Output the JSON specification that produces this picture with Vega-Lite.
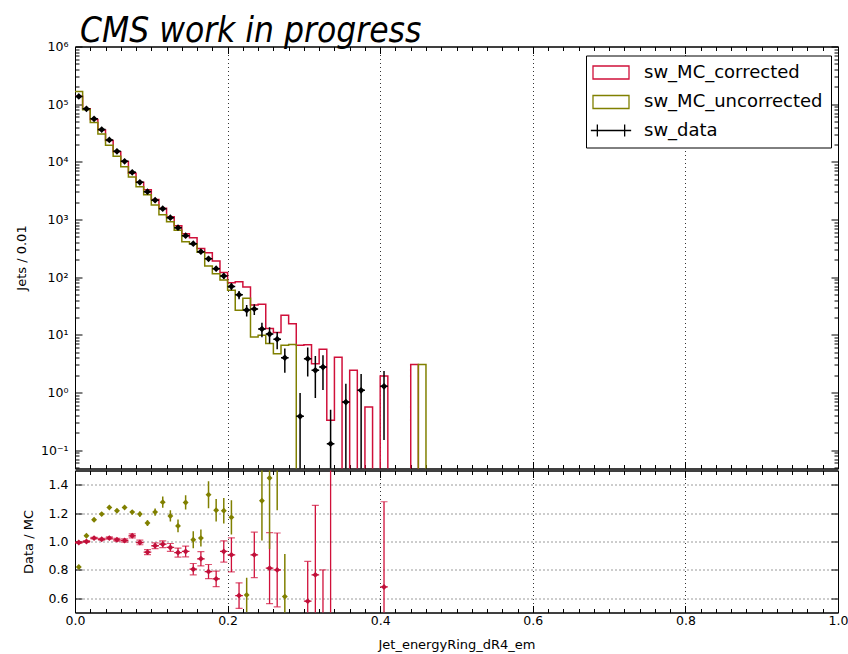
{
  "$schema": "https://vega.github.io/schema/vega-lite/v6.json",
  "padding": {"left": 14, "top": 12.5, "right": 5, "bottom": 0},
  "background": "white",
  "config": {
    "font": "DejaVu Sans",
    "view": {"stroke": "black", "strokeWidth": 1},
    "axis": {
      "labelFont": "DejaVu Sans", "labelFontSize": 12.5, "labelColor": "black", "labelFlush": false,
      "titleFont": "DejaVu Sans", "titleFontSize": 13, "titleFontWeight": "normal", "titleColor": "black",
      "domainColor": "black", "tickColor": "black", "gridColor": "black", "gridDash": [1, 3], "gridOpacity": 1, "gridWidth": 0.8
    }
  },
  "spacing": 0,
  "resolve": {"legend": {"color": "independent"}},
  "datasets": {
    "mc": [
      {"edge": 0.00, "series": "sw_MC_corrected", "n": 137000},
      {"edge": 0.01, "series": "sw_MC_corrected", "n": 83000},
      {"edge": 0.02, "series": "sw_MC_corrected", "n": 54300},
      {"edge": 0.03, "series": "sw_MC_corrected", "n": 35600},
      {"edge": 0.04, "series": "sw_MC_corrected", "n": 23400},
      {"edge": 0.05, "series": "sw_MC_corrected", "n": 15000},
      {"edge": 0.06, "series": "sw_MC_corrected", "n": 10100},
      {"edge": 0.07, "series": "sw_MC_corrected", "n": 6330},
      {"edge": 0.08, "series": "sw_MC_corrected", "n": 4440},
      {"edge": 0.09, "series": "sw_MC_corrected", "n": 3290},
      {"edge": 0.10, "series": "sw_MC_corrected", "n": 2230},
      {"edge": 0.11, "series": "sw_MC_corrected", "n": 1570},
      {"edge": 0.12, "series": "sw_MC_corrected", "n": 1120},
      {"edge": 0.13, "series": "sw_MC_corrected", "n": 782},
      {"edge": 0.14, "series": "sw_MC_corrected", "n": 563},
      {"edge": 0.15, "series": "sw_MC_corrected", "n": 480},
      {"edge": 0.16, "series": "sw_MC_corrected", "n": 314},
      {"edge": 0.17, "series": "sw_MC_corrected", "n": 264},
      {"edge": 0.18, "series": "sw_MC_corrected", "n": 190},
      {"edge": 0.19, "series": "sw_MC_corrected", "n": 120},
      {"edge": 0.20, "series": "sw_MC_corrected", "n": 80},
      {"edge": 0.21, "series": "sw_MC_corrected", "n": 83},
      {"edge": 0.22, "series": "sw_MC_corrected", "n": 67.6},
      {"edge": 0.23, "series": "sw_MC_corrected", "n": 33},
      {"edge": 0.24, "series": "sw_MC_corrected", "n": 33.9},
      {"edge": 0.25, "series": "sw_MC_corrected", "n": 12.8},
      {"edge": 0.26, "series": "sw_MC_corrected", "n": 11},
      {"edge": 0.27, "series": "sw_MC_corrected", "n": 21.8},
      {"edge": 0.28, "series": "sw_MC_corrected", "n": 15.6},
      {"edge": 0.29, "series": "sw_MC_corrected", "n": 6.6},
      {"edge": 0.30, "series": "sw_MC_corrected", "n": 6.7},
      {"edge": 0.31, "series": "sw_MC_corrected", "n": 3.16},
      {"edge": 0.32, "series": "sw_MC_corrected", "n": 5.6},
      {"edge": 0.33, "series": "sw_MC_corrected", "n": 0.33},
      {"edge": 0.34, "series": "sw_MC_corrected", "n": 4.1},
      {"edge": 0.35, "series": "sw_MC_corrected", "n": 0.0001},
      {"edge": 0.36, "series": "sw_MC_corrected", "n": 2.42},
      {"edge": 0.37, "series": "sw_MC_corrected", "n": 0.0001},
      {"edge": 0.38, "series": "sw_MC_corrected", "n": 0.56},
      {"edge": 0.39, "series": "sw_MC_corrected", "n": 0.0001},
      {"edge": 0.40, "series": "sw_MC_corrected", "n": 1.93},
      {"edge": 0.41, "series": "sw_MC_corrected", "n": 0.0001},
      {"edge": 0.42, "series": "sw_MC_corrected", "n": 0.0001},
      {"edge": 0.43, "series": "sw_MC_corrected", "n": 0.0001},
      {"edge": 0.44, "series": "sw_MC_corrected", "n": 3.04},
      {"edge": 0.45, "series": "sw_MC_corrected", "n": 0.0001},
      {"edge": 0.00, "series": "sw_MC_uncorrected", "n": 166000},
      {"edge": 0.01, "series": "sw_MC_uncorrected", "n": 79800},
      {"edge": 0.02, "series": "sw_MC_uncorrected", "n": 48200},
      {"edge": 0.03, "series": "sw_MC_uncorrected", "n": 30300},
      {"edge": 0.04, "series": "sw_MC_uncorrected", "n": 19400},
      {"edge": 0.05, "series": "sw_MC_uncorrected", "n": 12500},
      {"edge": 0.06, "series": "sw_MC_uncorrected", "n": 8230},
      {"edge": 0.07, "series": "sw_MC_uncorrected", "n": 5450},
      {"edge": 0.08, "series": "sw_MC_uncorrected", "n": 3700},
      {"edge": 0.09, "series": "sw_MC_uncorrected", "n": 2690},
      {"edge": 0.10, "series": "sw_MC_uncorrected", "n": 1790},
      {"edge": 0.11, "series": "sw_MC_uncorrected", "n": 1210},
      {"edge": 0.12, "series": "sw_MC_uncorrected", "n": 911},
      {"edge": 0.13, "series": "sw_MC_uncorrected", "n": 650},
      {"edge": 0.14, "series": "sw_MC_uncorrected", "n": 411},
      {"edge": 0.15, "series": "sw_MC_uncorrected", "n": 375},
      {"edge": 0.16, "series": "sw_MC_uncorrected", "n": 270},
      {"edge": 0.17, "series": "sw_MC_uncorrected", "n": 156},
      {"edge": 0.18, "series": "sw_MC_uncorrected", "n": 115},
      {"edge": 0.19, "series": "sw_MC_uncorrected", "n": 89},
      {"edge": 0.20, "series": "sw_MC_uncorrected", "n": 59},
      {"edge": 0.21, "series": "sw_MC_uncorrected", "n": 26.6},
      {"edge": 0.22, "series": "sw_MC_uncorrected", "n": 43},
      {"edge": 0.23, "series": "sw_MC_uncorrected", "n": 9.2},
      {"edge": 0.24, "series": "sw_MC_uncorrected", "n": 9.8},
      {"edge": 0.25, "series": "sw_MC_uncorrected", "n": 7.1},
      {"edge": 0.26, "series": "sw_MC_uncorrected", "n": 4.7},
      {"edge": 0.27, "series": "sw_MC_uncorrected", "n": 6.6},
      {"edge": 0.28, "series": "sw_MC_uncorrected", "n": 6.8},
      {"edge": 0.29, "series": "sw_MC_uncorrected", "n": 0.0001},
      {"edge": 0.30, "series": "sw_MC_uncorrected", "n": 0.0001},
      {"edge": 0.44, "series": "sw_MC_uncorrected", "n": 0.0001},
      {"edge": 0.45, "series": "sw_MC_uncorrected", "n": 3.04},
      {"edge": 0.46, "series": "sw_MC_uncorrected", "n": 0.0001}
    ],
    "obs": [
      {"x": 0.005, "xlo": 0.0, "xhi": 0.01, "n": 136000, "lo": 135550, "hi": 136450},
      {"x": 0.015, "xlo": 0.01, "xhi": 0.02, "n": 83000, "lo": 82650, "hi": 83350},
      {"x": 0.025, "xlo": 0.02, "xhi": 0.03, "n": 55600, "lo": 55320, "hi": 55880},
      {"x": 0.035, "xlo": 0.03, "xhi": 0.04, "n": 36200, "lo": 35970, "hi": 36430},
      {"x": 0.045, "xlo": 0.04, "xhi": 0.05, "n": 24000, "lo": 23810, "hi": 24190},
      {"x": 0.055, "xlo": 0.05, "xhi": 0.06, "n": 15200, "lo": 15050, "hi": 15350},
      {"x": 0.065, "xlo": 0.06, "xhi": 0.07, "n": 10200, "lo": 10080, "hi": 10320},
      {"x": 0.075, "xlo": 0.07, "xhi": 0.08, "n": 6580, "lo": 6480, "hi": 6680},
      {"x": 0.085, "xlo": 0.08, "xhi": 0.09, "n": 4410, "lo": 4330, "hi": 4490},
      {"x": 0.095, "xlo": 0.09, "xhi": 0.10, "n": 3040, "lo": 2974, "hi": 3106},
      {"x": 0.105, "xlo": 0.10, "xhi": 0.11, "n": 2160, "lo": 2104, "hi": 2216},
      {"x": 0.115, "xlo": 0.11, "xhi": 0.12, "n": 1540, "lo": 1493, "hi": 1587},
      {"x": 0.125, "xlo": 0.12, "xhi": 0.13, "n": 1075, "lo": 1035, "hi": 1115},
      {"x": 0.135, "xlo": 0.13, "xhi": 0.14, "n": 721, "lo": 689, "hi": 753},
      {"x": 0.145, "xlo": 0.14, "xhi": 0.15, "n": 524, "lo": 496, "hi": 552},
      {"x": 0.155, "xlo": 0.15, "xhi": 0.16, "n": 380, "lo": 356, "hi": 404},
      {"x": 0.165, "xlo": 0.16, "xhi": 0.17, "n": 276, "lo": 256, "hi": 296},
      {"x": 0.175, "xlo": 0.17, "xhi": 0.18, "n": 208, "lo": 191, "hi": 225},
      {"x": 0.185, "xlo": 0.18, "xhi": 0.19, "n": 140, "lo": 126, "hi": 154},
      {"x": 0.195, "xlo": 0.19, "xhi": 0.20, "n": 105, "lo": 93, "hi": 117},
      {"x": 0.205, "xlo": 0.20, "xhi": 0.21, "n": 69, "lo": 59, "hi": 79},
      {"x": 0.215, "xlo": 0.21, "xhi": 0.22, "n": 49.5, "lo": 41.5, "hi": 57.5},
      {"x": 0.225, "xlo": 0.22, "xhi": 0.23, "n": 26.8, "lo": 20.8, "hi": 32.8},
      {"x": 0.235, "xlo": 0.23, "xhi": 0.24, "n": 28, "lo": 22, "hi": 34},
      {"x": 0.245, "xlo": 0.24, "xhi": 0.25, "n": 12.6, "lo": 9.1, "hi": 16.1},
      {"x": 0.255, "xlo": 0.25, "xhi": 0.26, "n": 10.3, "lo": 7.1, "hi": 13.5},
      {"x": 0.265, "xlo": 0.26, "xhi": 0.27, "n": 8.4, "lo": 5.6, "hi": 11.2},
      {"x": 0.275, "xlo": 0.27, "xhi": 0.28, "n": 4.0, "lo": 2.2, "hi": 5.8},
      {"x": 0.295, "xlo": 0.29, "xhi": 0.30, "n": 0.385, "lo": 0.0001, "hi": 0.98},
      {"x": 0.305, "xlo": 0.30, "xhi": 0.31, "n": 3.86, "lo": 1.9, "hi": 6.0},
      {"x": 0.315, "xlo": 0.31, "xhi": 0.32, "n": 2.42, "lo": 0.8, "hi": 4.3},
      {"x": 0.325, "xlo": 0.32, "xhi": 0.33, "n": 2.76, "lo": 1.1, "hi": 4.4},
      {"x": 0.335, "xlo": 0.33, "xhi": 0.34, "n": 0.129, "lo": 0.0001, "hi": 0.5},
      {"x": 0.355, "xlo": 0.35, "xhi": 0.36, "n": 0.68, "lo": 0.0001, "hi": 1.42},
      {"x": 0.375, "xlo": 0.37, "xhi": 0.38, "n": 1.09, "lo": 0.03, "hi": 2.1},
      {"x": 0.405, "xlo": 0.40, "xhi": 0.41, "n": 1.28, "lo": 0.15, "hi": 2.35}
    ],
    "ratio_corr": [
      {"x": 0.005, "xlo": 0.0, "xhi": 0.01, "r": 0.993, "lo": 0.988, "hi": 0.998},
      {"x": 0.015, "xlo": 0.01, "xhi": 0.02, "r": 1.0, "lo": 0.995, "hi": 1.005},
      {"x": 0.025, "xlo": 0.02, "xhi": 0.03, "r": 1.024, "lo": 1.018, "hi": 1.030},
      {"x": 0.035, "xlo": 0.03, "xhi": 0.04, "r": 1.016, "lo": 1.009, "hi": 1.023},
      {"x": 0.045, "xlo": 0.04, "xhi": 0.05, "r": 1.024, "lo": 1.016, "hi": 1.032},
      {"x": 0.055, "xlo": 0.05, "xhi": 0.06, "r": 1.012, "lo": 1.002, "hi": 1.022},
      {"x": 0.065, "xlo": 0.06, "xhi": 0.07, "r": 1.007, "lo": 0.995, "hi": 1.019},
      {"x": 0.075, "xlo": 0.07, "xhi": 0.08, "r": 1.04, "lo": 1.026, "hi": 1.054},
      {"x": 0.085, "xlo": 0.08, "xhi": 0.09, "r": 0.993, "lo": 0.977, "hi": 1.009},
      {"x": 0.095, "xlo": 0.09, "xhi": 0.10, "r": 0.925, "lo": 0.907, "hi": 0.943},
      {"x": 0.105, "xlo": 0.10, "xhi": 0.11, "r": 0.97, "lo": 0.95, "hi": 0.99},
      {"x": 0.115, "xlo": 0.11, "xhi": 0.12, "r": 0.981, "lo": 0.957, "hi": 1.005},
      {"x": 0.125, "xlo": 0.12, "xhi": 0.13, "r": 0.958, "lo": 0.93, "hi": 0.986},
      {"x": 0.135, "xlo": 0.13, "xhi": 0.14, "r": 0.922, "lo": 0.89, "hi": 0.954},
      {"x": 0.145, "xlo": 0.14, "xhi": 0.15, "r": 0.93, "lo": 0.892, "hi": 0.968},
      {"x": 0.155, "xlo": 0.15, "xhi": 0.16, "r": 0.805, "lo": 0.765, "hi": 0.845},
      {"x": 0.165, "xlo": 0.16, "xhi": 0.17, "r": 0.878, "lo": 0.828, "hi": 0.928},
      {"x": 0.175, "xlo": 0.17, "xhi": 0.18, "r": 0.788, "lo": 0.738, "hi": 0.838},
      {"x": 0.185, "xlo": 0.18, "xhi": 0.19, "r": 0.737, "lo": 0.682, "hi": 0.792},
      {"x": 0.195, "xlo": 0.19, "xhi": 0.20, "r": 0.93, "lo": 0.855, "hi": 1.005},
      {"x": 0.205, "xlo": 0.20, "xhi": 0.21, "r": 0.906, "lo": 0.786, "hi": 1.026},
      {"x": 0.215, "xlo": 0.21, "xhi": 0.22, "r": 0.619, "lo": 0.529, "hi": 0.709},
      {"x": 0.235, "xlo": 0.23, "xhi": 0.24, "r": 0.906, "lo": 0.746, "hi": 1.066},
      {"x": 0.255, "xlo": 0.25, "xhi": 0.26, "r": 0.812, "lo": 0.562, "hi": 1.062},
      {"x": 0.265, "xlo": 0.26, "xhi": 0.27, "r": 0.8, "lo": 0.54, "hi": 1.06},
      {"x": 0.305, "xlo": 0.30, "xhi": 0.31, "r": 0.58, "lo": 0.30, "hi": 0.86},
      {"x": 0.315, "xlo": 0.31, "xhi": 0.32, "r": 0.765, "lo": 0.275, "hi": 1.255},
      {"x": 0.325, "xlo": 0.32, "xhi": 0.33, "r": 0.46, "lo": 0.12, "hi": 0.80},
      {"x": 0.335, "xlo": 0.33, "xhi": 0.34, "r": 0.39, "lo": -0.73, "hi": 1.51},
      {"x": 0.405, "xlo": 0.40, "xhi": 0.41, "r": 0.68, "lo": 0.08, "hi": 1.28}
    ],
    "ratio_unc": [
      {"x": 0.005, "r": 0.82, "lo": 0.814, "hi": 0.826},
      {"x": 0.015, "r": 1.04, "lo": 1.034, "hi": 1.046},
      {"x": 0.025, "r": 1.153, "lo": 1.146, "hi": 1.160},
      {"x": 0.035, "r": 1.193, "lo": 1.185, "hi": 1.201},
      {"x": 0.045, "r": 1.24, "lo": 1.231, "hi": 1.249},
      {"x": 0.055, "r": 1.217, "lo": 1.207, "hi": 1.227},
      {"x": 0.065, "r": 1.24, "lo": 1.228, "hi": 1.252},
      {"x": 0.075, "r": 1.207, "lo": 1.192, "hi": 1.222},
      {"x": 0.085, "r": 1.193, "lo": 1.175, "hi": 1.211},
      {"x": 0.095, "r": 1.13, "lo": 1.11, "hi": 1.15},
      {"x": 0.105, "r": 1.207, "lo": 1.182, "hi": 1.232},
      {"x": 0.115, "r": 1.277, "lo": 1.237, "hi": 1.317},
      {"x": 0.125, "r": 1.18, "lo": 1.14, "hi": 1.22},
      {"x": 0.135, "r": 1.11, "lo": 1.065, "hi": 1.155},
      {"x": 0.145, "r": 1.275, "lo": 1.225, "hi": 1.325},
      {"x": 0.155, "r": 1.012, "lo": 0.952, "hi": 1.072},
      {"x": 0.165, "r": 1.024, "lo": 0.964, "hi": 1.084},
      {"x": 0.175, "r": 1.33, "lo": 1.235, "hi": 1.425},
      {"x": 0.185, "r": 1.22, "lo": 1.14, "hi": 1.30},
      {"x": 0.195, "r": 1.217, "lo": 1.127, "hi": 1.307},
      {"x": 0.205, "r": 1.17, "lo": 1.05, "hi": 1.29},
      {"x": 0.225, "r": 0.624, "lo": 0.504, "hi": 0.744},
      {"x": 0.245, "r": 1.287, "lo": 1.007, "hi": 1.567},
      {"x": 0.255, "r": 1.447, "lo": 0.947, "hi": 1.947},
      {"x": 0.265, "r": 1.75, "lo": 1.22, "hi": 2.28},
      {"x": 0.275, "r": 0.612, "lo": 0.312, "hi": 0.912}
    ]
  },
  "vconcat": [
    {
      "width": 763,
      "height": 422,
      "title": {"text": "CMS work in progress", "anchor": "start", "frame": "group", "font": "Liberation Sans Narrow, DejaVu Sans Condensed, sans-serif", "fontStyle": "italic", "fontSize": 35, "fontWeight": "normal", "color": "black", "offset": -8, "dx": 5},
      "layer": [
        {
          "data": {"name": "mc"},
          "mark": {"type": "line", "interpolate": "step-after", "clip": true, "strokeWidth": 1.5},
          "encoding": {
            "x": {"field": "edge", "type": "quantitative", "scale": {"domain": [0, 1], "nice": false, "zero": false},
              "axis": {"orient": "bottom", "title": null, "labels": false, "domain": true, "minExtent": 0, "maxExtent": 0,
                "values": [0,0.02,0.04,0.06,0.08,0.1,0.12,0.14,0.16,0.18,0.2,0.22,0.24,0.26,0.28,0.3,0.32,0.34,0.36,0.38,0.4,0.42,0.44,0.46,0.48,0.5,0.52,0.54,0.56,0.58,0.6,0.62,0.64,0.66,0.68,0.7,0.72,0.74,0.76,0.78,0.8,0.82,0.84,0.86,0.88,0.9,0.92,0.94,0.96,0.98,1],
                "grid": true,
                "gridOpacity": {"condition": {"test": "abs(datum.value*5 - round(datum.value*5)) < 0.000001 && datum.value > 0.01 && datum.value < 0.99", "value": 1}, "value": 0},
                "tickSize": {"condition": {"test": "abs(datum.value*5 - round(datum.value*5)) < 0.000001", "value": -7}, "value": -4}}},
            "y": {"field": "n", "type": "quantitative", "scale": {"type": "log", "domain": [0.048, 1000000], "nice": false},
              "axis": {"orient": "left", "title": "Jets / 0.01", "grid": false, "minExtent": 35, "maxExtent": 35, "titlePadding": 12,
                "values": [0.05,0.06,0.07,0.08,0.09,0.1,0.2,0.3,0.4,0.5,0.6,0.7,0.8,0.9,1,2,3,4,5,6,7,8,9,10,20,30,40,50,60,70,80,90,100,200,300,400,500,600,700,800,900,1000,2000,3000,4000,5000,6000,7000,8000,9000,10000,20000,30000,40000,50000,60000,70000,80000,90000,100000,200000,300000,400000,500000,600000,700000,800000,900000,1000000],
                "labelExpr": "abs(log(datum.value)/LN10 - round(log(datum.value)/LN10)) < 0.000001 ? '10' + ['⁻¹','⁰','¹','²','³','⁴','⁵','⁶'][round(log(datum.value)/LN10) + 1] : ''",
                "tickSize": {"condition": {"test": "abs(log(datum.value)/LN10 - round(log(datum.value)/LN10)) < 0.000001", "value": -7}, "value": -4},
                "labelPadding": 14}},
            "color": {"field": "series", "type": "nominal",
              "scale": {"domain": ["sw_MC_corrected", "sw_MC_uncorrected", "sw_data"], "range": ["#d0103a", "#808000", "black"]},
              "legend": {"title": null, "orient": "none", "legendX": 511, "legendY": 9,
                "fillColor": "white", "strokeColor": "black", "padding": 8,
                "labelFont": "DejaVu Sans", "labelFontSize": 18, "labelColor": "black", "labelLimit": 400,
                "symbolSize": 169, "symbolStrokeWidth": 1.3, "symbolType": "M-2.77,-1H2.77V1H-2.77Z",
                "symbolFillColor": "transparent", "symbolOffset": 8, "labelOffset": 24, "rowPadding": 9.5,
                "encode": {"symbols": {"update": {"shape": {"signal": "datum.value === 'sw_data' ? 'M-3.1,0H3.1M-2.1,-0.92V0.92M2.1,-0.92V0.92' : 'M-2.77,-1H2.77V1H-2.77Z'"}}}}}}
          }
        },
        {
          "data": {"name": "obs"},
          "mark": {"type": "rule", "color": "black", "strokeWidth": 1.5, "clip": true},
          "encoding": {
            "x": {"field": "x", "type": "quantitative", "axis": null},
            "y": {"field": "lo", "type": "quantitative", "axis": null},
            "y2": {"field": "hi"}
          }
        },
        {
          "data": {"name": "obs"},
          "mark": {"type": "rule", "color": "black", "strokeWidth": 1.5, "clip": true},
          "encoding": {
            "x": {"field": "xlo", "type": "quantitative", "axis": null},
            "x2": {"field": "xhi"},
            "y": {"field": "n", "type": "quantitative", "axis": null}
          }
        },
        {
          "data": {"name": "obs"},
          "mark": {"type": "point", "shape": "diamond", "filled": true, "color": "black", "size": 45, "opacity": 1, "clip": true},
          "encoding": {
            "x": {"field": "x", "type": "quantitative", "axis": null},
            "y": {"field": "n", "type": "quantitative", "axis": null}
          }
        },
        {
          "data": {"name": "obs"},
          "mark": {"type": "point", "opacity": 0, "size": 1, "clip": true},
          "encoding": {
            "x": {"field": "x", "type": "quantitative",
              "axis": {"orient": "top", "title": null, "labels": false, "grid": false, "minExtent": 0, "maxExtent": 0,
                "values": [0,0.02,0.04,0.06,0.08,0.1,0.12,0.14,0.16,0.18,0.2,0.22,0.24,0.26,0.28,0.3,0.32,0.34,0.36,0.38,0.4,0.42,0.44,0.46,0.48,0.5,0.52,0.54,0.56,0.58,0.6,0.62,0.64,0.66,0.68,0.7,0.72,0.74,0.76,0.78,0.8,0.82,0.84,0.86,0.88,0.9,0.92,0.94,0.96,0.98,1],
                "tickSize": {"condition": {"test": "abs(datum.value*5 - round(datum.value*5)) < 0.000001", "value": -7}, "value": -4}}},
            "y": {"field": "n", "type": "quantitative",
              "axis": {"orient": "right", "title": null, "labels": false, "grid": false, "minExtent": 0, "maxExtent": 0,
                "values": [0.05,0.06,0.07,0.08,0.09,0.1,0.2,0.3,0.4,0.5,0.6,0.7,0.8,0.9,1,2,3,4,5,6,7,8,9,10,20,30,40,50,60,70,80,90,100,200,300,400,500,600,700,800,900,1000,2000,3000,4000,5000,6000,7000,8000,9000,10000,20000,30000,40000,50000,60000,70000,80000,90000,100000,200000,300000,400000,500000,600000,700000,800000,900000,1000000],
                "tickSize": {"condition": {"test": "abs(log(datum.value)/LN10 - round(log(datum.value)/LN10)) < 0.000001", "value": -7}, "value": -4}}}
          }
        }
      ]
    },
    {
      "width": 763,
      "height": 142,
      "layer": [
        {
          "mark": {"type": "rule", "color": "#444444", "strokeWidth": 2, "strokeDash": [12.8, 3.2, 2, 3.2]},
          "encoding": {"y": {"datum": 1, "type": "quantitative", "axis": null}}
        },
        {
          "data": {"name": "ratio_corr"},
          "mark": {"type": "rule", "color": "#d0103a", "strokeWidth": 1.3, "clip": true},
          "encoding": {
            "x": {"field": "x", "type": "quantitative", "scale": {"domain": [0, 1], "nice": false, "zero": false},
              "axis": {"orient": "bottom", "title": "Jet_energyRing_dR4_em", "titlePadding": 12,
                "values": [0,0.02,0.04,0.06,0.08,0.1,0.12,0.14,0.16,0.18,0.2,0.22,0.24,0.26,0.28,0.3,0.32,0.34,0.36,0.38,0.4,0.42,0.44,0.46,0.48,0.5,0.52,0.54,0.56,0.58,0.6,0.62,0.64,0.66,0.68,0.7,0.72,0.74,0.76,0.78,0.8,0.82,0.84,0.86,0.88,0.9,0.92,0.94,0.96,0.98,1],
                "labelExpr": "abs(datum.value*5 - round(datum.value*5)) < 0.000001 ? format(datum.value, '.1f') : ''",
                "grid": true,
                "gridOpacity": {"condition": {"test": "abs(datum.value*5 - round(datum.value*5)) < 0.000001 && datum.value > 0.01 && datum.value < 0.99", "value": 1}, "value": 0},
                "tickSize": {"condition": {"test": "abs(datum.value*5 - round(datum.value*5)) < 0.000001", "value": -7}, "value": -4},
                "labelPadding": 8.5}},
            "y": {"field": "lo", "type": "quantitative", "scale": {"domain": [0.5, 1.5], "nice": false, "zero": false},
              "axis": {"orient": "left", "title": "Data / MC", "values": [0.6, 0.8, 1.0, 1.2, 1.4], "format": ".1f", "grid": true, "tickSize": -7, "labelPadding": 14, "minExtent": 35, "maxExtent": 35, "titlePadding": 5}},
            "y2": {"field": "hi"}
          }
        },
        {
          "data": {"name": "ratio_corr"},
          "mark": {"type": "tick", "orient": "horizontal", "color": "#d0103a", "size": 7, "thickness": 1.2, "clip": true},
          "encoding": {
            "x": {"field": "x", "type": "quantitative", "axis": null},
            "y": {"field": "hi", "type": "quantitative", "axis": null}
          }
        },
        {
          "data": {"name": "ratio_corr"},
          "mark": {"type": "tick", "orient": "horizontal", "color": "#d0103a", "size": 7, "thickness": 1.2, "clip": true},
          "encoding": {
            "x": {"field": "x", "type": "quantitative", "axis": null},
            "y": {"field": "lo", "type": "quantitative", "axis": null}
          }
        },
        {
          "data": {"name": "ratio_corr"},
          "mark": {"type": "rule", "color": "#d0103a", "strokeWidth": 1.3, "clip": true},
          "encoding": {
            "x": {"field": "xlo", "type": "quantitative", "axis": null},
            "x2": {"field": "xhi"},
            "y": {"field": "r", "type": "quantitative", "axis": null}
          }
        },
        {
          "data": {"name": "ratio_unc"},
          "mark": {"type": "rule", "color": "#808000", "strokeWidth": 1.5, "clip": true},
          "encoding": {
            "x": {"field": "x", "type": "quantitative", "axis": null},
            "y": {"field": "lo", "type": "quantitative", "axis": null},
            "y2": {"field": "hi"}
          }
        },
        {
          "data": {"name": "ratio_corr"},
          "mark": {"type": "point", "shape": "diamond", "filled": true, "color": "#c0103a", "size": 35, "opacity": 1, "clip": true},
          "encoding": {
            "x": {"field": "x", "type": "quantitative", "axis": null},
            "y": {"field": "r", "type": "quantitative", "axis": null}
          }
        },
        {
          "data": {"name": "ratio_unc"},
          "mark": {"type": "point", "shape": "diamond", "filled": true, "color": "#808000", "size": 35, "opacity": 1, "clip": true},
          "encoding": {
            "x": {"field": "x", "type": "quantitative", "axis": null},
            "y": {"field": "r", "type": "quantitative", "axis": null}
          }
        },
        {
          "data": {"name": "ratio_corr"},
          "mark": {"type": "point", "opacity": 0, "size": 1, "clip": true},
          "encoding": {
            "x": {"field": "x", "type": "quantitative",
              "axis": {"orient": "top", "title": null, "labels": false, "grid": false, "minExtent": 0, "maxExtent": 0,
                "values": [0,0.02,0.04,0.06,0.08,0.1,0.12,0.14,0.16,0.18,0.2,0.22,0.24,0.26,0.28,0.3,0.32,0.34,0.36,0.38,0.4,0.42,0.44,0.46,0.48,0.5,0.52,0.54,0.56,0.58,0.6,0.62,0.64,0.66,0.68,0.7,0.72,0.74,0.76,0.78,0.8,0.82,0.84,0.86,0.88,0.9,0.92,0.94,0.96,0.98,1],
                "tickSize": {"condition": {"test": "abs(datum.value*5 - round(datum.value*5)) < 0.000001", "value": -7}, "value": -4}}},
            "y": {"field": "r", "type": "quantitative",
              "axis": {"orient": "right", "title": null, "labels": false, "grid": false, "minExtent": 0, "maxExtent": 0, "values": [0.6, 0.8, 1.0, 1.2, 1.4], "tickSize": -7}}
          }
        }
      ]
    }
  ]
}
